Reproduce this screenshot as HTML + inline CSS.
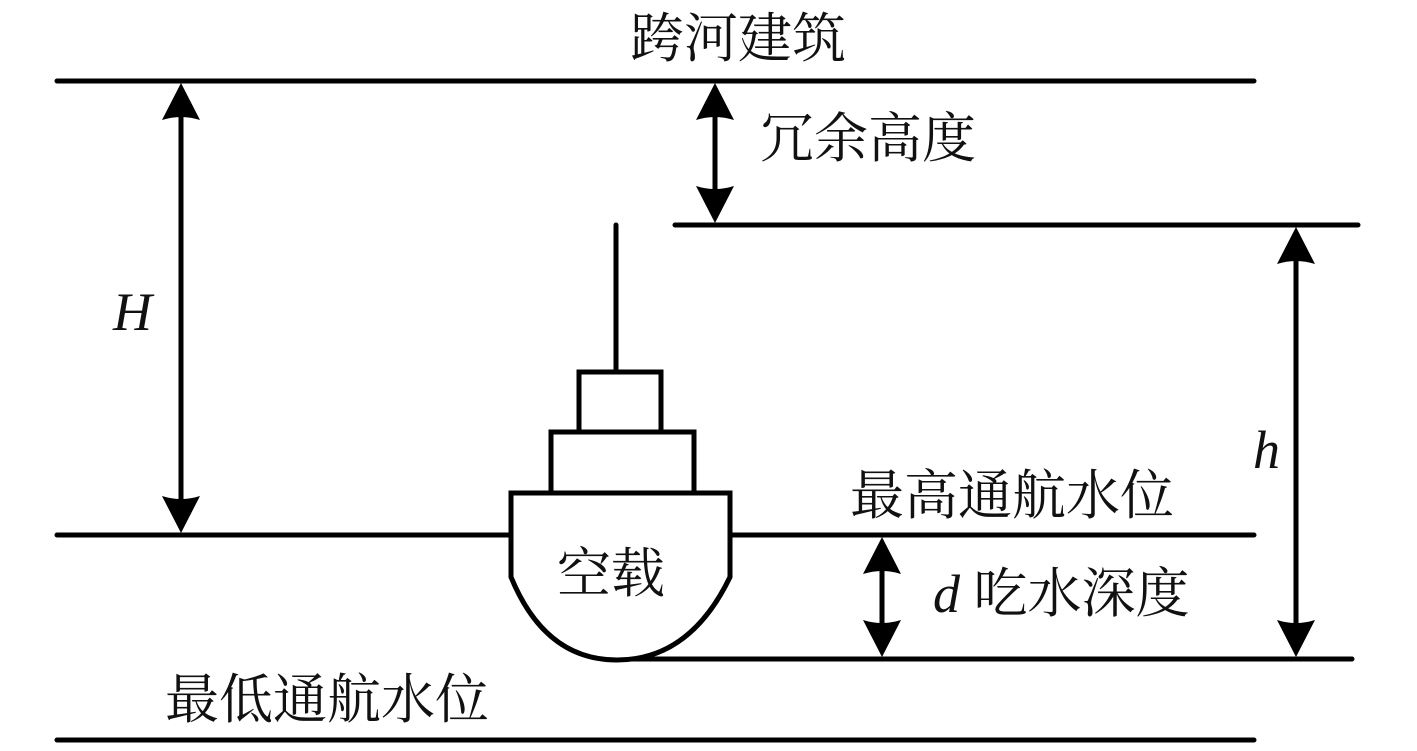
<!DOCTYPE html>
<html><head><meta charset="utf-8"><style>
html,body{margin:0;padding:0;background:#fff;width:1417px;height:751px;overflow:hidden}
text{font-family:"Liberation Serif","Noto Serif CJK SC",serif;font-size:54px;fill:#111}
</style></head><body>
<svg width="1417" height="751" viewBox="0 0 1417 751" xmlns="http://www.w3.org/2000/svg">
<defs>
<marker id="a" viewBox="0 0 40 40" refX="20" refY="0" markerWidth="40" markerHeight="40" markerUnits="userSpaceOnUse" orient="auto-start-reverse">
</marker>
</defs>
<g stroke="#000" stroke-width="5" stroke-linecap="round" fill="none">
<line x1="57" y1="81" x2="1254" y2="81"/>
<line x1="675" y1="225" x2="1358" y2="225"/>
<line x1="57" y1="535" x2="511" y2="535"/>
<line x1="730" y1="535" x2="1254" y2="535"/>
<line x1="617" y1="659" x2="1352" y2="659"/>
<line x1="57" y1="740" x2="1254" y2="740"/>
<line x1="616" y1="225" x2="616" y2="372"/>
<rect x="579" y="372" width="82" height="60"/>
<rect x="551" y="432" width="143" height="61"/>
<path d="M511 493 H730 V577 Q690 660 617 660 Q545 660 511 577 Z" fill="#fff"/>
<line x1="181" y1="110" x2="181" y2="505"/>
<line x1="715" y1="110" x2="715" y2="196"/>
<line x1="1296" y1="254" x2="1296" y2="630"/>
<line x1="882" y1="564" x2="882" y2="630"/>
</g>
<g fill="#000">
<path d="M181 83 L200 120 Q181 114 162 120 Z"/><path d="M181 533 L200 496 Q181 502 162 496 Z"/>
<path d="M715 83 L734 120 Q715 114 696 120 Z"/><path d="M715 223 L734 186 Q715 192 696 186 Z"/>
<path d="M1296 227 L1315 264 Q1296 258 1277 264 Z"/><path d="M1296 657 L1315 620 Q1296 626 1277 620 Z"/>
<path d="M882 537 L901 574 Q882 568 863 574 Z"/><path d="M882 657 L901 620 Q882 626 863 620 Z"/>
</g>
<text x="738" y="57" text-anchor="middle">跨河建筑</text>
<text x="760" y="157">冗余高度</text>
<text x="113" y="330" font-style="italic">H</text>
<text x="1253" y="468" font-style="italic">h</text>
<text x="850" y="514">最高通航水位</text>
<text x="933" y="612"><tspan font-style="italic">d</tspan> 吃水深度</text>
<text x="557" y="592">空载</text>
<text x="165" y="718">最低通航水位</text>
</svg>
</body></html>
